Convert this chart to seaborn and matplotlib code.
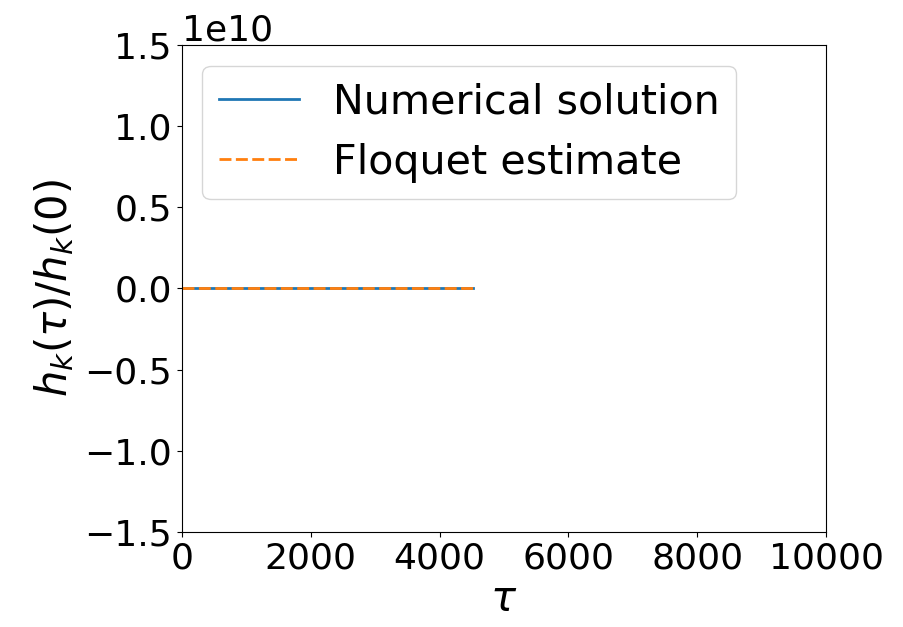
import numpy as np
import matplotlib
matplotlib.use('Agg')
import matplotlib.pyplot as plt
import pandas as pd
import seaborn as sns

# time axis and the two (flat) solutions
tau = [0, 1000, 2000, 3000, 4000, 4520]
numerical = [0, 0, 0, 0, 0, 0]
floquet = [0, 0, 0, 0, 0, 0]

plt.rcParams['font.size'] = 26
plt.rcParams['mathtext.fontset'] = 'dejavusans'

fig, ax = plt.subplots(figsize=(9.04, 6.27), dpi=100)
sns.lineplot(x=tau, y=numerical, color='#1f77b4', linewidth=2,
             label='Numerical solution', ax=ax)
sns.lineplot(x=tau, y=floquet, color='#ff7f0e', linewidth=2,
             dashes=False, label='Floquet estimate', ax=ax)
ax.lines[1].set_dashes((4.3, 1.6))

ax.set_xlim(0, 10000)
ax.set_ylim(-1.5e10, 1.5e10)
ax.set_xticks([0, 2000, 4000, 6000, 8000, 10000])
ax.set_yticks(np.arange(-1.5e10, 1.6e10, 0.5e10))
ax.set_xlabel(r'$\tau$', fontsize=30, labelpad=2)
ax.set_ylabel(r'$h_k(\tau)/h_k(0)$', fontsize=30, labelpad=6)
ax.legend(loc='upper left', fontsize=29.7, handlelength=1.95, handletextpad=0.82)

fig.subplots_adjust(left=0.201, right=0.914, top=0.928, bottom=0.152)
fig.savefig('out.png', dpi=100)
